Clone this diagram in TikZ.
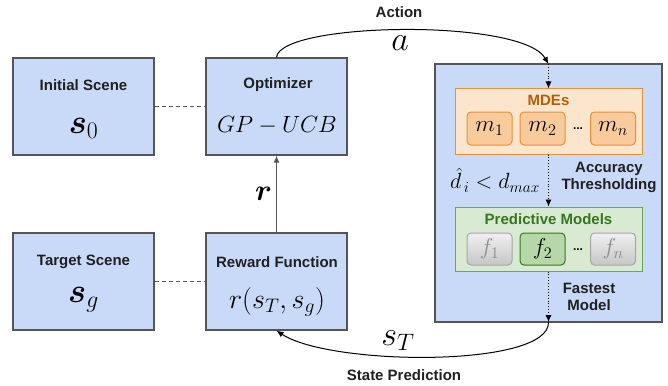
\RequirePackage{fix-cm}
\documentclass[tikz,border=0pt]{standalone}
\usepackage{amsmath}
\usepackage{fontspec}
\setmainfont{Liberation Sans}
\usetikzlibrary{arrows.meta}
\definecolor{bluefill}{HTML}{C9DAF8}
\definecolor{boxline}{HTML}{555555}
\definecolor{orfill}{HTML}{FCE5CD}
\definecolor{orline}{HTML}{E69138}
\definecolor{orin}{HTML}{F9CB9C}
\definecolor{ortext}{HTML}{B45F06}
\definecolor{grfill}{HTML}{D9EAD3}
\definecolor{grline}{HTML}{6AA84F}
\definecolor{grin}{HTML}{B6D7A8}
\definecolor{grdark}{HTML}{38761D}
\definecolor{txt}{HTML}{202020}
\tikzset{
  bluebox/.style={draw=boxline, line width=1.3pt, fill=bluefill, minimum width=141pt, minimum height=97pt, inner sep=0pt},
  titletext/.style={font=\fontsize{15}{18}\selectfont\bfseries, text=txt, inner sep=0pt},
  mathbig/.style={font=\fontsize{34}{38}\selectfont, inner sep=0pt},
  mbox/.style={draw=orline, line width=1pt, fill=orin, rounded corners=4pt, minimum width=45pt, minimum height=33pt, inner sep=0pt, font=\fontsize{23}{26}\selectfont},
  fbox/.style={draw=gray!70, line width=1pt, top color=gray!12, bottom color=gray!45, rounded corners=4pt, minimum width=45pt, minimum height=32pt, inner sep=0pt, font=\fontsize{23}{26}\selectfont, text=gray!90},
  fgreen/.style={draw=grdark, line width=1pt, fill=grin, rounded corners=4pt, minimum width=45pt, minimum height=32pt, inner sep=0pt, font=\fontsize{23}{26}\selectfont},
  conn/.style={black, line width=1pt, -{Latex[length=7pt,width=6pt]}},
  dotconn/.style={black, line width=0.9pt, dotted, -{Latex[length=7pt,width=6pt]}},
  dashconn/.style={boxline, line width=1pt, dash pattern=on 4pt off 3pt},
}
\begin{document}
\begin{tikzpicture}[x=1pt,y=-1pt]
\useasboundingbox (0,0) rectangle (668,385);
% left boxes
\node[bluebox] (init) at (83.5,106.5) {};
\node[bluebox] (opt) at (276.5,106.5) {};
\node[bluebox] (target) at (83.5,281.5) {};
\node[bluebox] (reward) at (276.5,281.5) {};
\node[titletext] (initt) at (83.5,85) {Initial Scene};
\node[mathbig] (initm) at (83.5,128) {$\boldsymbol{s}_0$};
\node[titletext] (optt) at (278,85) {Optimizer};
\node[inner sep=0pt, font=\fontsize{23.5}{26}\selectfont] (optm) at (277,125) {$GP-UCB$};
\node[titletext] (targett) at (83.5,262) {Target Scene};
\node[mathbig] (targetm) at (83.5,300) {$\boldsymbol{s}_g$};
\node[titletext] (rewardt) at (277,262) {Reward Function};
\node[inner sep=0pt, font=\fontsize{28}{30}\selectfont] (rewardm) at (277,302) {$r(s_T,s_g)$};
\draw[dashconn] (init.east) -- (opt.west);
\draw[dashconn] (target.east) -- (reward.west);
\draw[boxline, line width=1pt, -{Latex[length=7pt,width=6pt]}] (reward.north) -- (opt.south) node[midway, left=4pt, black, font=\fontsize{30}{32}\selectfont, inner sep=0pt] (rlab) {$\boldsymbol{r}$};
% right big box
\node[draw=boxline, line width=1.3pt, fill=bluefill, minimum width=227pt, minimum height=258pt, inner sep=0pt] (big) at (548.5,193) {};
\node[draw=orline, line width=1pt, fill=orfill, minimum width=187pt, minimum height=65pt, inner sep=0pt] (mde) at (548.5,121.5) {};
\node[inner sep=0pt, font=\fontsize{15}{18}\selectfont\bfseries, text=ortext] (mdet) at (548.5,100) {MDEs};
\node[mbox] (m1) at (489.5,128.5) {$m_1$};
\node[mbox] (m2) at (542.5,128.5) {$m_2$};
\node[mbox] (mn) at (613,128.5) {$m_n$};
\node[inner sep=0pt, font=\fontsize{12}{14}\selectfont\bfseries] (mdots) at (578,129) {...};
\node[draw=grline, line width=1pt, fill=grfill, minimum width=187pt, minimum height=64pt, inner sep=0pt] (pred) at (548.5,239) {};
\node[inner sep=0pt, font=\fontsize{15}{18}\selectfont\bfseries, text=grdark] (predt) at (548.5,219) {Predictive Models};
\node[fbox] (f1) at (489.5,249) {$f_1$};
\node[fgreen] (f2) at (542.5,249) {$f_2$};
\node[fbox] (fn) at (613,249) {$f_n$};
\node[inner sep=0pt, font=\fontsize{12}{14}\selectfont\bfseries] (fdots) at (578,249.5) {...};
\node[inner sep=0pt, font=\fontsize{22}{24}\selectfont] (thr) at (495,180) {$\hat{d}_{\,i} < d_{max}$};
\node[titletext, align=center] (acc) at (609,177.5) {Accuracy\\[-1pt]Thresholding};
\node[titletext, align=center] (fast) at (589,296.5) {Fastest\\[-1pt]Model};
% connectors
\coordinate (intop) at (548.5,64);
\coordinate (inbot) at (548.5,322);
\draw[conn] (opt.north) .. controls (280,22) and (522,18) .. (intop);
\draw[dotconn] (intop) -- (mde.north);
\draw[dotconn] (mde.south) -- (pred.north);
\draw[dotconn] (pred.south) -- (inbot);
\draw[conn] (inbot) .. controls (550,368) and (330,366) .. (reward.south);
\node[titletext] (act) at (399,12) {Action};
\node[mathbig] (alab) at (400,43) {$a$};
\node[mathbig] (stlab) at (398,341) {$s_T$};
\node[titletext] (sp) at (404,375) {State Prediction};
\end{tikzpicture}
\end{document}
